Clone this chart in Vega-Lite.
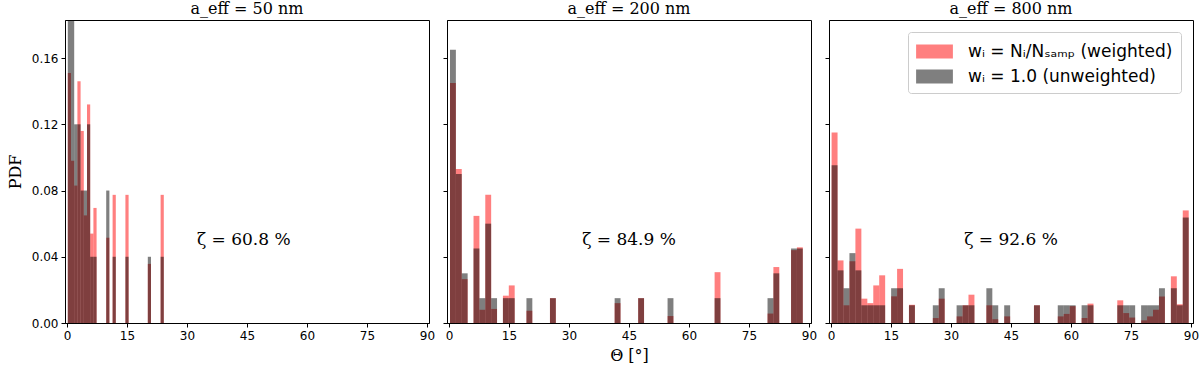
{
  "$schema": "https://vega.github.io/schema/vega-lite/v6.json",
  "padding": {"left": 6, "right": 0, "top": 0, "bottom": 5},
  "background": "white",
  "spacing": 6,
  "datasets": {
    "h": [
      {"p":"a","s":"w","a":0.2,"b":1.0,"y":0.151},
      {"p":"a","s":"w","a":1.0,"b":1.8,"y":0.098},
      {"p":"a","s":"w","a":1.8,"b":2.6,"y":0.083},
      {"p":"a","s":"w","a":2.6,"b":3.4,"y":0.146},
      {"p":"a","s":"w","a":3.4,"b":4.2,"y":0.116},
      {"p":"a","s":"w","a":4.2,"b":5.0,"y":0.065},
      {"p":"a","s":"w","a":5.0,"b":5.8,"y":0.132},
      {"p":"a","s":"w","a":5.8,"b":6.6,"y":0.054},
      {"p":"a","s":"w","a":6.6,"b":7.4,"y":0.0695},
      {"p":"a","s":"w","a":9.8,"b":10.6,"y":0.0515},
      {"p":"a","s":"w","a":11.4,"b":12.2,"y":0.0774},
      {"p":"a","s":"w","a":14.6,"b":15.4,"y":0.0774},
      {"p":"a","s":"w","a":20.2,"b":21.0,"y":0.0357},
      {"p":"a","s":"w","a":23.4,"b":24.2,"y":0.0774},
      {"p":"a","s":"u","a":0.2,"b":1.0,"y":0.2},
      {"p":"a","s":"u","a":1.0,"b":1.8,"y":0.2},
      {"p":"a","s":"u","a":1.8,"b":2.6,"y":0.12},
      {"p":"a","s":"u","a":2.6,"b":3.4,"y":0.12},
      {"p":"a","s":"u","a":3.4,"b":4.2,"y":0.08},
      {"p":"a","s":"u","a":4.2,"b":5.0,"y":0.08},
      {"p":"a","s":"u","a":5.0,"b":5.8,"y":0.12},
      {"p":"a","s":"u","a":5.8,"b":6.6,"y":0.04},
      {"p":"a","s":"u","a":6.6,"b":7.4,"y":0.04},
      {"p":"a","s":"u","a":9.8,"b":10.6,"y":0.08},
      {"p":"a","s":"u","a":11.4,"b":12.2,"y":0.04},
      {"p":"a","s":"u","a":14.6,"b":15.4,"y":0.04},
      {"p":"a","s":"u","a":20.2,"b":21.0,"y":0.04},
      {"p":"a","s":"u","a":23.4,"b":24.2,"y":0.04},

      {"p":"b","s":"w","a":0.25,"b":1.72,"y":0.145},
      {"p":"b","s":"w","a":1.72,"b":3.19,"y":0.093},
      {"p":"b","s":"w","a":3.19,"b":4.66,"y":0.0265},
      {"p":"b","s":"w","a":6.13,"b":7.60,"y":0.0647},
      {"p":"b","s":"w","a":7.60,"b":9.07,"y":0.008},
      {"p":"b","s":"w","a":9.07,"b":10.54,"y":0.0774},
      {"p":"b","s":"w","a":10.54,"b":12.01,"y":0.0085},
      {"p":"b","s":"w","a":13.48,"b":14.95,"y":0.0165},
      {"p":"b","s":"w","a":14.95,"b":16.42,"y":0.0227},
      {"p":"b","s":"w","a":19.36,"b":20.83,"y":0.0074},
      {"p":"b","s":"w","a":25.24,"b":26.71,"y":0.015},
      {"p":"b","s":"w","a":41.41,"b":42.88,"y":0.012},
      {"p":"b","s":"w","a":47.29,"b":48.76,"y":0.015},
      {"p":"b","s":"w","a":54.64,"b":56.11,"y":0.0042},
      {"p":"b","s":"w","a":66.40,"b":67.87,"y":0.0307},
      {"p":"b","s":"w","a":79.63,"b":81.10,"y":0.0057},
      {"p":"b","s":"w","a":81.10,"b":82.57,"y":0.0338},
      {"p":"b","s":"w","a":85.51,"b":86.98,"y":0.044},
      {"p":"b","s":"w","a":86.98,"b":88.45,"y":0.0457},
      {"p":"b","s":"u","a":0.25,"b":1.72,"y":0.165},
      {"p":"b","s":"u","a":1.72,"b":3.19,"y":0.09},
      {"p":"b","s":"u","a":3.19,"b":4.66,"y":0.03},
      {"p":"b","s":"u","a":6.13,"b":7.60,"y":0.045},
      {"p":"b","s":"u","a":7.60,"b":9.07,"y":0.015},
      {"p":"b","s":"u","a":9.07,"b":10.54,"y":0.06},
      {"p":"b","s":"u","a":10.54,"b":12.01,"y":0.015},
      {"p":"b","s":"u","a":13.48,"b":14.95,"y":0.015},
      {"p":"b","s":"u","a":14.95,"b":16.42,"y":0.015},
      {"p":"b","s":"u","a":19.36,"b":20.83,"y":0.015},
      {"p":"b","s":"u","a":25.24,"b":26.71,"y":0.015},
      {"p":"b","s":"u","a":41.41,"b":42.88,"y":0.015},
      {"p":"b","s":"u","a":47.29,"b":48.76,"y":0.015},
      {"p":"b","s":"u","a":54.64,"b":56.11,"y":0.015},
      {"p":"b","s":"u","a":66.40,"b":67.87,"y":0.015},
      {"p":"b","s":"u","a":79.63,"b":81.10,"y":0.015},
      {"p":"b","s":"u","a":81.10,"b":82.57,"y":0.03},
      {"p":"b","s":"u","a":85.51,"b":86.98,"y":0.045},
      {"p":"b","s":"u","a":86.98,"b":88.45,"y":0.045},

      {"p":"c","s":"w","a":0.15,"b":1.64,"y":0.115},
      {"p":"c","s":"w","a":1.64,"b":3.13,"y":0.0378},
      {"p":"c","s":"w","a":3.13,"b":4.61,"y":0.0107},
      {"p":"c","s":"w","a":4.61,"b":6.10,"y":0.0373},
      {"p":"c","s":"w","a":6.10,"b":7.59,"y":0.057},
      {"p":"c","s":"w","a":7.59,"b":9.08,"y":0.0147},
      {"p":"c","s":"w","a":9.08,"b":10.57,"y":0.012},
      {"p":"c","s":"w","a":10.57,"b":12.05,"y":0.0227},
      {"p":"c","s":"w","a":12.05,"b":13.54,"y":0.0288},
      {"p":"c","s":"w","a":15.03,"b":16.52,"y":0.0161},
      {"p":"c","s":"w","a":16.52,"b":18.01,"y":0.0327},
      {"p":"c","s":"w","a":19.49,"b":20.98,"y":0.011},
      {"p":"c","s":"w","a":25.45,"b":26.93,"y":0.003},
      {"p":"c","s":"w","a":26.93,"b":28.42,"y":0.0147},
      {"p":"c","s":"w","a":31.40,"b":32.89,"y":0.004},
      {"p":"c","s":"w","a":32.89,"b":34.37,"y":0.0107},
      {"p":"c","s":"w","a":34.37,"b":35.86,"y":0.0171},
      {"p":"c","s":"w","a":38.84,"b":40.33,"y":0.0107},
      {"p":"c","s":"w","a":40.33,"b":41.81,"y":0.0023},
      {"p":"c","s":"w","a":43.30,"b":44.79,"y":0.004},
      {"p":"c","s":"w","a":50.74,"b":52.23,"y":0.0107},
      {"p":"c","s":"w","a":56.69,"b":58.18,"y":0.004},
      {"p":"c","s":"w","a":58.18,"b":59.67,"y":0.0055},
      {"p":"c","s":"w","a":59.67,"b":61.16,"y":0.0102},
      {"p":"c","s":"w","a":62.65,"b":64.13,"y":0.003},
      {"p":"c","s":"w","a":64.13,"b":65.62,"y":0.0117},
      {"p":"c","s":"w","a":71.57,"b":73.06,"y":0.0137},
      {"p":"c","s":"w","a":73.06,"b":74.55,"y":0.006},
      {"p":"c","s":"w","a":74.55,"b":76.04,"y":0.0033},
      {"p":"c","s":"w","a":77.53,"b":79.01,"y":0.0016},
      {"p":"c","s":"w","a":79.01,"b":80.50,"y":0.004},
      {"p":"c","s":"w","a":80.50,"b":81.99,"y":0.008},
      {"p":"c","s":"w","a":81.99,"b":83.48,"y":0.016},
      {"p":"c","s":"w","a":84.97,"b":86.45,"y":0.0282},
      {"p":"c","s":"w","a":86.45,"b":87.94,"y":0.0113},
      {"p":"c","s":"w","a":87.94,"b":89.43,"y":0.068},
      {"p":"c","s":"u","a":0.15,"b":1.64,"y":0.0953},
      {"p":"c","s":"u","a":1.64,"b":3.13,"y":0.0318},
      {"p":"c","s":"u","a":3.13,"b":4.61,"y":0.021},
      {"p":"c","s":"u","a":4.61,"b":6.10,"y":0.0422},
      {"p":"c","s":"u","a":6.10,"b":7.59,"y":0.0318},
      {"p":"c","s":"u","a":7.59,"b":9.08,"y":0.0107},
      {"p":"c","s":"u","a":9.08,"b":10.57,"y":0.0107},
      {"p":"c","s":"u","a":10.57,"b":12.05,"y":0.0107},
      {"p":"c","s":"u","a":12.05,"b":13.54,"y":0.0107},
      {"p":"c","s":"u","a":15.03,"b":16.52,"y":0.021},
      {"p":"c","s":"u","a":16.52,"b":18.01,"y":0.021},
      {"p":"c","s":"u","a":19.49,"b":20.98,"y":0.0107},
      {"p":"c","s":"u","a":25.45,"b":26.93,"y":0.0107},
      {"p":"c","s":"u","a":26.93,"b":28.42,"y":0.021},
      {"p":"c","s":"u","a":31.40,"b":32.89,"y":0.0107},
      {"p":"c","s":"u","a":32.89,"b":34.37,"y":0.0107},
      {"p":"c","s":"u","a":34.37,"b":35.86,"y":0.0107},
      {"p":"c","s":"u","a":38.84,"b":40.33,"y":0.021},
      {"p":"c","s":"u","a":40.33,"b":41.81,"y":0.0107},
      {"p":"c","s":"u","a":43.30,"b":44.79,"y":0.0107},
      {"p":"c","s":"u","a":50.74,"b":52.23,"y":0.0107},
      {"p":"c","s":"u","a":56.69,"b":58.18,"y":0.0107},
      {"p":"c","s":"u","a":58.18,"b":59.67,"y":0.0107},
      {"p":"c","s":"u","a":59.67,"b":61.16,"y":0.0107},
      {"p":"c","s":"u","a":62.65,"b":64.13,"y":0.0107},
      {"p":"c","s":"u","a":64.13,"b":65.62,"y":0.0107},
      {"p":"c","s":"u","a":71.57,"b":73.06,"y":0.0107},
      {"p":"c","s":"u","a":73.06,"b":74.55,"y":0.0107},
      {"p":"c","s":"u","a":74.55,"b":76.04,"y":0.0107},
      {"p":"c","s":"u","a":77.53,"b":79.01,"y":0.0107},
      {"p":"c","s":"u","a":79.01,"b":80.50,"y":0.0107},
      {"p":"c","s":"u","a":80.50,"b":81.99,"y":0.0107},
      {"p":"c","s":"u","a":81.99,"b":83.48,"y":0.021},
      {"p":"c","s":"u","a":84.97,"b":86.45,"y":0.021},
      {"p":"c","s":"u","a":86.45,"b":87.94,"y":0.0107},
      {"p":"c","s":"u","a":87.94,"b":89.43,"y":0.0637}
    ],
    "z": [
      {"p":"a","x":44.2,"y":0.05,"t":"ζ = 60.8 %"},
      {"p":"b","x":45.0,"y":0.05,"t":"ζ = 84.9 %"},
      {"p":"c","x":45.0,"y":0.05,"t":"ζ = 92.6 %"}
    ]
  },
  "config": {
    "view": {"stroke": "black", "strokeWidth": 1},
    "axis": {
      "grid": false, "domainColor": "black", "tickColor": "black", "labelColor": "black",
      "labelFont": "DejaVu Sans", "labelFontSize": 12, "tickSize": 4, "labelPadding": 3,
      "titleFont": "DejaVu Serif", "titleFontSize": 16, "titleFontWeight": "normal", "titleColor": "black"
    },
    "title": {"font": "DejaVu Serif", "fontSize": 16, "fontWeight": "normal", "color": "black", "offset": 3}
  },
  "resolve": {"scale": {"color": "independent"}, "legend": {"color": "independent"}},
  "hconcat": [
    {
      "width": 364, "height": 303,
      "title": "a_eff = 50 nm",
      "layer": [
        {
          "data": {"name": "h"},
          "transform": [{"filter": "datum.p == 'a' && datum.s == 'w'"}],
          "mark": {"type": "bar", "opacity": 0.5, "clip": true},
          "encoding": {
            "x": {"field": "a", "type": "quantitative", "scale": {"domain": [-0.5, 90.5], "nice": false}, "axis": {"values": [0,15,30,45,60,75,90], "title": null}},
            "x2": {"field": "b"},
            "y": {"field": "y", "type": "quantitative", "scale": {"domain": [0, 0.183], "nice": false}, "axis": {"values": [0,0.04,0.08,0.12,0.16], "format": ".2f", "title": "PDF", "titlePadding": 8}},
            "y2": {"datum": 0},
            "color": {"field": "s", "type": "nominal", "scale": {"domain": ["w","u"], "range": ["#ff0000","#000000"]}, "legend": null}
          }
        },
        {
          "data": {"name": "h"},
          "transform": [{"filter": "datum.p == 'a' && datum.s == 'u'"}],
          "mark": {"type": "bar", "opacity": 0.5, "clip": true},
          "encoding": {
            "x": {"field": "a", "type": "quantitative"},
            "x2": {"field": "b"},
            "y": {"field": "y", "type": "quantitative"},
            "y2": {"datum": 0},
            "color": {"field": "s", "type": "nominal", "scale": {"domain": ["w","u"], "range": ["#ff0000","#000000"]}, "legend": null}
          }
        },
        {
          "data": {"name": "z"},
          "transform": [{"filter": "datum.p == 'a'"}],
          "mark": {"type": "text", "font": "DejaVu Serif", "fontSize": 17, "color": "black", "align": "center", "baseline": "middle"},
          "encoding": {
            "x": {"field": "x", "type": "quantitative"},
            "y": {"field": "y", "type": "quantitative"},
            "text": {"field": "t"}
          }
        }
      ]
    },
    {
      "width": 364, "height": 303,
      "title": "a_eff = 200 nm",
      "layer": [
        {
          "data": {"name": "h"},
          "transform": [{"filter": "datum.p == 'b' && datum.s == 'w'"}],
          "mark": {"type": "bar", "opacity": 0.5, "clip": true},
          "encoding": {
            "x": {"field": "a", "type": "quantitative", "scale": {"domain": [-0.5, 90.5], "nice": false}, "axis": {"values": [0,15,30,45,60,75,90], "title": "Θ [°]", "titlePadding": 6}},
            "x2": {"field": "b"},
            "y": {"field": "y", "type": "quantitative", "scale": {"domain": [0, 0.183], "nice": false}, "axis": {"values": [0,0.04,0.08,0.12,0.16], "labels": false, "title": null}},
            "y2": {"datum": 0},
            "color": {"field": "s", "type": "nominal", "scale": {"domain": ["w","u"], "range": ["#ff0000","#000000"]}, "legend": null}
          }
        },
        {
          "data": {"name": "h"},
          "transform": [{"filter": "datum.p == 'b' && datum.s == 'u'"}],
          "mark": {"type": "bar", "opacity": 0.5, "clip": true},
          "encoding": {
            "x": {"field": "a", "type": "quantitative"},
            "x2": {"field": "b"},
            "y": {"field": "y", "type": "quantitative"},
            "y2": {"datum": 0},
            "color": {"field": "s", "type": "nominal", "scale": {"domain": ["w","u"], "range": ["#ff0000","#000000"]}, "legend": null}
          }
        },
        {
          "data": {"name": "z"},
          "transform": [{"filter": "datum.p == 'b'"}],
          "mark": {"type": "text", "font": "DejaVu Serif", "fontSize": 17, "color": "black", "align": "center", "baseline": "middle"},
          "encoding": {
            "x": {"field": "x", "type": "quantitative"},
            "y": {"field": "y", "type": "quantitative"},
            "text": {"field": "t"}
          }
        }
      ]
    },
    {
      "width": 364, "height": 303,
      "title": "a_eff = 800 nm",
      "layer": [
        {
          "data": {"name": "h"},
          "transform": [{"filter": "datum.p == 'c' && datum.s == 'w'"}],
          "mark": {"type": "bar", "opacity": 0.5, "clip": true},
          "encoding": {
            "x": {"field": "a", "type": "quantitative", "scale": {"domain": [-0.5, 90.5], "nice": false}, "axis": {"values": [0,15,30,45,60,75,90], "title": null}},
            "x2": {"field": "b"},
            "y": {"field": "y", "type": "quantitative", "scale": {"domain": [0, 0.183], "nice": false}, "axis": {"values": [0,0.04,0.08,0.12,0.16], "labels": false, "title": null}},
            "y2": {"datum": 0},
            "color": {"field": "s", "type": "nominal", "scale": {"domain": ["w","u"], "range": ["#ff0000","#000000"]},
              "legend": {"orient": "top-right", "offset": 12, "title": null,
                "labelExpr": "datum.label == 'w' ? 'wᵢ = Nᵢ/Nₛₐₘₚ (weighted)' : 'wᵢ = 1.0 (unweighted)'",
                "labelFont": "DejaVu Sans", "labelFontSize": 17, "labelColor": "black", "labelOffset": 22, "labelLimit": 400,
                "symbolType": "M-1.6,-0.6H1.6V0.6H-1.6Z", "symbolSize": 529, "symbolOpacity": 0.5, "symbolStrokeWidth": 0, "symbolOffset": 7,
                "rowPadding": 5, "padding": 8, "strokeColor": "#cccccc", "fillColor": "white", "cornerRadius": 3}}
          }
        },
        {
          "data": {"name": "h"},
          "transform": [{"filter": "datum.p == 'c' && datum.s == 'u'"}],
          "mark": {"type": "bar", "opacity": 0.5, "clip": true},
          "encoding": {
            "x": {"field": "a", "type": "quantitative"},
            "x2": {"field": "b"},
            "y": {"field": "y", "type": "quantitative"},
            "y2": {"datum": 0},
            "color": {"field": "s", "type": "nominal", "scale": {"domain": ["w","u"], "range": ["#ff0000","#000000"]}}
          }
        },
        {
          "data": {"name": "z"},
          "transform": [{"filter": "datum.p == 'c'"}],
          "mark": {"type": "text", "font": "DejaVu Serif", "fontSize": 17, "color": "black", "align": "center", "baseline": "middle"},
          "encoding": {
            "x": {"field": "x", "type": "quantitative"},
            "y": {"field": "y", "type": "quantitative"},
            "text": {"field": "t"}
          }
        }
      ]
    }
  ]
}
